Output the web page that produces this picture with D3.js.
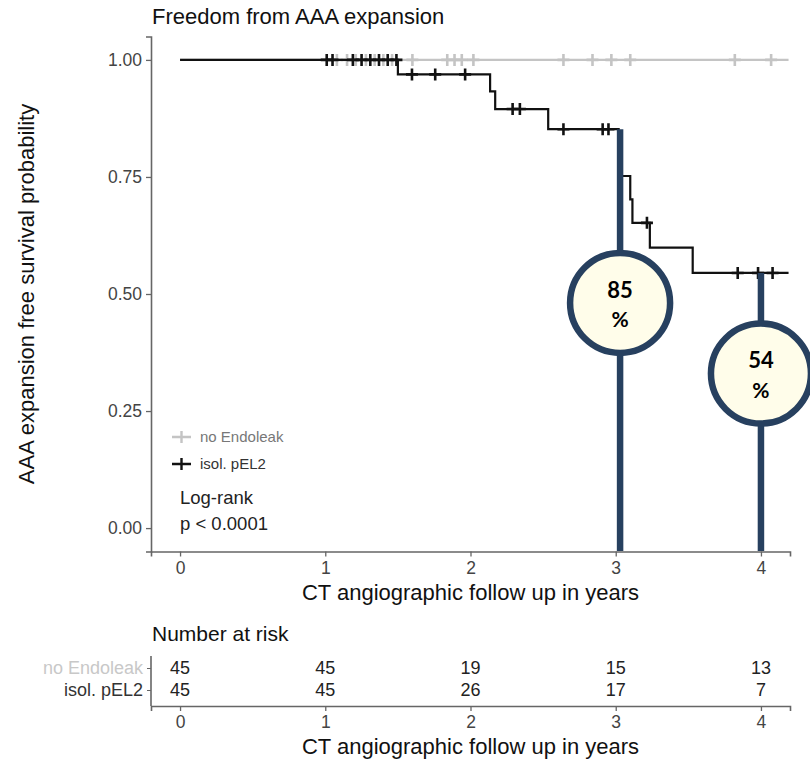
<!DOCTYPE html>
<html>
<head>
<meta charset="utf-8">
<script src="https://cdn.jsdelivr.net/npm/d3@7"></script>
<style>
  body { margin: 0; background: #fff; }
  text { font-family: "Liberation Sans", Arial, sans-serif; }
</style>
</head>
<body>
<div id="km"></div>
<script>
// groups + risk table
var groups = ['no Endoleak', 'isol. pEL2'];
var groupColors = ['#c4c4c4', '#111111'];
var riskTimes = [0, 1, 2, 3, 4];
var riskNoEL = [45, 45, 19, 15, 13];
var riskPEL2 = [45, 45, 26, 17, 7];

// survival steps (time in years, survival prob)
var timeNoEL = [0, 4.19];
var survNoEL = [1, 1];
var timePEL2 = [0, 1.50, 2.135, 2.17, 2.535, 3.02, 3.10, 3.115, 3.235, 3.53, 4.19];
var survPEL2 = [1, 0.969, 0.933, 0.895, 0.852, 0.752, 0.702, 0.652, 0.599, 0.545, 0.545];

// censoring marks
var censorNoEL = [1.08, 1.15, 1.21, 1.28, 1.34, 1.40, 1.46, 1.60, 1.84, 1.89, 1.94, 2.02, 2.64, 2.84, 2.97, 3.10, 3.82, 4.07];
var censorPEL2 = [1.01, 1.05, 1.19, 1.25, 1.31, 1.37, 1.43, 1.49, 1.597, 1.757, 1.963, 2.29, 2.34, 2.64, 2.91, 2.95, 3.215, 3.84, 3.98, 4.08];

var yTicks = [0, 0.25, 0.5, 0.75, 1];
var xTicks = [0, 1, 2, 3, 4];

// callouts
var calloutTime = [3.03, 4];
var calloutFrom = [0.852, 0.545];
var calloutAt = [0.481, 0.33];
var calloutLabel = ['85', '54'];

var W = 810, H = 762;
var svg = d3.select('#km').append('svg')
    .attr('width', W)
    .attr('height', H);

var x = d3.scaleLinear().domain([-0.2, 4.2]).range([151, 790]);
var y = d3.scaleLinear().domain([-0.05, 1.05]).range([551.5, 36.5]);

function stepAt(times, surv, t) {
  var i = d3.bisectRight(times, t) - 1;
  return surv[Math.max(0, i)];
}

// title
svg.append('text')
    .attr('x', 152).attr('y', 24)
    .style('font-size', '22px').attr('fill', '#111')
    .text('Freedom from AAA expansion');

// axes
var axisCol = '#666';
var yAxis = svg.append('g')
    .attr('transform', 'translate(151,0)')
    .call(d3.axisLeft(y).tickValues(yTicks).tickFormat(d3.format('.2f')).tickSize(5).tickPadding(4));
var xAxis = svg.append('g')
    .attr('transform', 'translate(0,551.5)')
    .call(d3.axisBottom(x).tickValues(xTicks).tickFormat(d3.format('d')).tickSize(5).tickPadding(5));
[yAxis, xAxis].forEach(function(a) {
  a.select('.domain').attr('stroke', axisCol).attr('stroke-width', 1.6);
  a.selectAll('.tick line').attr('stroke', axisCol).attr('stroke-width', 1.3);
  a.selectAll('.tick text').attr('fill', '#444').style('font-size', '17.5px').style('font-family', '"Liberation Sans", Arial, sans-serif');
});

svg.append('text')
    .attr('transform', 'translate(34,' + ((36.5 + 551.5) / 2) + ') rotate(-90)')
    .attr('text-anchor', 'middle')
    .style('font-size', '22px').attr('fill', '#111')
    .text('AAA expansion free survival probability');

svg.append('text')
    .attr('x', (151 + 790) / 2).attr('y', 600)
    .attr('text-anchor', 'middle')
    .style('font-size', '22px').attr('fill', '#111')
    .text('CT angiographic follow up in years');

// curves
var line = d3.line().curve(d3.curveStepAfter)
    .x(function(d) { return x(d[0]); })
    .y(function(d) { return y(d[1]); });

var series = [
  { times: timeNoEL, surv: survNoEL, cens: censorNoEL, col: groupColors[0], w: 2.2 },
  { times: timePEL2, surv: survPEL2, cens: censorPEL2, col: groupColors[1], w: 2.2 }
];

series.forEach(function(s) {
  svg.append('path')
      .datum(d3.zip(s.times, s.surv))
      .attr('d', line)
      .attr('fill', 'none')
      .attr('stroke', s.col)
      .attr('stroke-width', s.w);
  svg.selectAll(null)
      .data(s.cens)
    .enter().append('path')
      .attr('d', function(t) {
        var cx = x(t), cy = y(stepAt(s.times, s.surv, t));
        return 'M' + (cx - 6) + ',' + cy + 'H' + (cx + 6) + 'M' + cx + ',' + (cy - 6) + 'V' + (cy + 6);
      })
      .attr('stroke', s.col)
      .attr('stroke-width', 2.6)
      .attr('fill', 'none');
});

// legend
var legY = [437, 464];
var leg = svg.selectAll('g.leg')
    .data(groups)
  .enter().append('g')
    .attr('class', 'leg')
    .attr('transform', function(d, i) { return 'translate(172,' + legY[i] + ')'; });
leg.append('path')
    .attr('d', 'M0,0H19M9.5,-6V6')
    .attr('stroke', function(d, i) { return groupColors[i]; })
    .attr('stroke-width', 2.4);
leg.append('text')
    .attr('x', 28).attr('dy', '0.35em')
    .style('font-size', '15px')
    .attr('fill', function(d, i) { return i === 0 ? '#777' : '#333'; })
    .text(function(d) { return d; });

svg.append('text').attr('x', 180).attr('y', 504)
    .style('font-size', '18.5px').attr('fill', '#222').text('Log-rank');
svg.append('text').attr('x', 180).attr('y', 530)
    .style('font-size', '18.5px').attr('fill', '#222').text('p < 0.0001');

// callouts (line + circle)
var navy = '#27405f';
var call = svg.selectAll('g.callout')
    .data(calloutTime)
  .enter().append('g')
    .attr('class', 'callout');
call.append('line')
    .attr('x1', function(d) { return x(d); })
    .attr('x2', function(d) { return x(d); })
    .attr('y1', function(d, i) { return y(calloutFrom[i]); })
    .attr('y2', 551)
    .attr('stroke', navy)
    .attr('stroke-width', 6.5);
call.append('circle')
    .attr('cx', function(d) { return x(d); })
    .attr('cy', function(d, i) { return y(calloutAt[i]); })
    .attr('r', 50)
    .attr('fill', '#fffdea')
    .attr('stroke', navy)
    .attr('stroke-width', 6.5);
call.append('text')
    .attr('x', function(d) { return x(d); })
    .attr('y', function(d, i) { return y(calloutAt[i]) - 13; })
    .attr('dy', '0.35em')
    .attr('text-anchor', 'middle')
    .style('font-family', 'Lato, "Open Sans", sans-serif')
    .style('font-weight', 'bold')
    .style('font-size', '22px')
    .attr('fill', '#000')
    .text(function(d, i) { return calloutLabel[i]; });
call.append('text')
    .attr('x', function(d) { return x(d); })
    .attr('y', function(d, i) { return y(calloutAt[i]) + 17; })
    .attr('dy', '0.35em')
    .attr('text-anchor', 'middle')
    .style('font-family', 'Lato, "Open Sans", sans-serif')
    .style('font-weight', 'bold')
    .style('font-size', '21px')
    .attr('fill', '#000')
    .text('%');

// number at risk table
svg.append('text')
    .attr('x', 152).attr('y', 641)
    .style('font-size', '21px').attr('fill', '#111')
    .text('Number at risk');

var ry = d3.scalePoint().domain(groups).range([668, 690]);
var rAxisY = svg.append('g')
    .attr('transform', 'translate(151,0)')
    .call(d3.axisLeft(ry).tickSize(4).tickPadding(4));
rAxisY.select('.domain').attr('d', 'M-0,656V706').attr('stroke', axisCol).attr('stroke-width', 1.6);
rAxisY.selectAll('.tick line').attr('stroke', axisCol);
rAxisY.selectAll('.tick text')
    .style('font-size', '18px').style('font-family', '"Liberation Sans", Arial, sans-serif')
    .attr('fill', function(d, i) { return i === 0 ? '#c8c8c8' : '#333'; });

var rAxisX = svg.append('g')
    .attr('transform', 'translate(0,706)')
    .call(d3.axisBottom(x).tickValues(xTicks).tickFormat(d3.format('d')).tickSize(5).tickPadding(5));
rAxisX.select('.domain').attr('stroke', axisCol).attr('stroke-width', 1.6);
rAxisX.selectAll('.tick line').attr('stroke', axisCol).attr('stroke-width', 1.3);
rAxisX.selectAll('.tick text').attr('fill', '#444').style('font-size', '17.5px').style('font-family', '"Liberation Sans", Arial, sans-serif');

[riskNoEL, riskPEL2].forEach(function(row, r) {
  svg.selectAll(null)
      .data(row)
    .enter().append('text')
      .attr('x', function(d, i) { return x(riskTimes[i]); })
      .attr('y', ry(groups[r]))
      .attr('dy', '0.35em')
      .attr('text-anchor', 'middle')
      .style('font-size', '18px')
      .attr('fill', '#222')
      .text(function(d) { return d; });
});

svg.append('text')
    .attr('x', (151 + 790) / 2).attr('y', 754)
    .attr('text-anchor', 'middle')
    .style('font-size', '22px').attr('fill', '#111')
    .text('CT angiographic follow up in years');
</script>
</body>
</html>
